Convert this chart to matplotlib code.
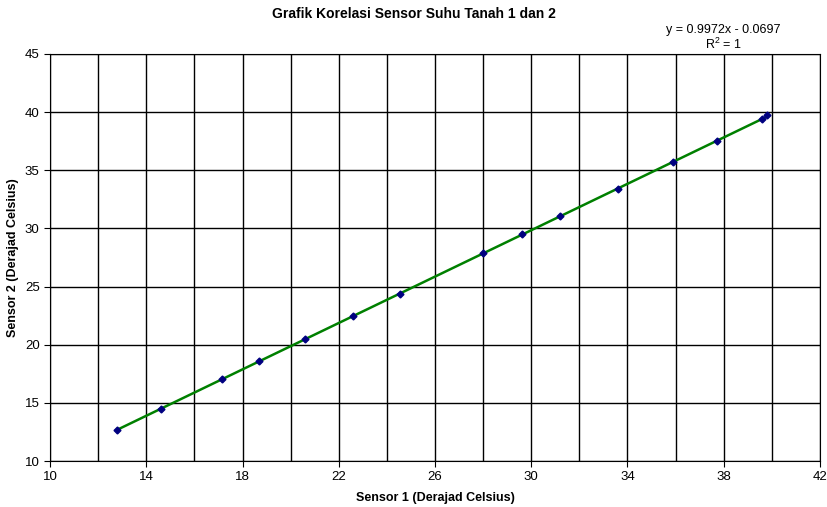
import numpy as np
import matplotlib
matplotlib.use('Agg')
import matplotlib.pyplot as plt
from matplotlib.ticker import MultipleLocator

plt.rcParams['font.family'] = ['Liberation Sans', 'DejaVu Sans']

# sensor readings (degrees Celsius)
sensor1 = [12.8, 14.6, 17.15, 18.7, 20.6, 22.6, 24.55, 28.0, 29.6, 31.2, 33.6, 35.9, 37.7, 39.6, 39.8]
sensor2 = [12.7, 14.5, 17.05, 18.6, 20.5, 22.5, 24.4, 27.9, 29.5, 31.1, 33.4, 35.7, 37.5, 39.45, 39.75]
slope = 0.9972
intercept = -0.0697
x_ticks = [10, 14, 18, 22, 26, 30, 34, 38, 42]

fig = plt.figure(figsize=(8.27, 5.07), dpi=100)
ax = fig.add_axes([0.0605, 0.0907, 0.931, 0.8028])

xs = np.array([min(sensor1), max(sensor1)])
ax.plot(xs, slope * xs + intercept, color='#008000', lw=1.8, zorder=3)
ax.plot(sensor1, sensor2, linestyle='none', marker='D', ms=3.5,
        color='#000080', zorder=4)

ax.set_xlim(10, 42)
ax.set_ylim(10, 45)
ax.set_xticks(x_ticks)
ax.xaxis.set_minor_locator(MultipleLocator(2))
ax.yaxis.set_major_locator(MultipleLocator(5))
ax.grid(which='both', axis='x', color='black', lw=1)
ax.grid(which='major', axis='y', color='black', lw=1)
ax.set_axisbelow(True)
ax.tick_params(which='both', direction='out', length=4, labelsize=9.5, colors='black')
ax.tick_params(which='minor', length=0)
for s in ax.spines.values():
    s.set_color('black')

ax.set_xlabel('Sensor 1 (Derajad Celsius)', fontsize=9, fontweight='bold', labelpad=6)
ax.set_ylabel('Sensor 2 (Derajad Celsius)', fontsize=9, fontweight='bold', labelpad=4)
fig.text(0.5, 0.972, 'Grafik Korelasi Sensor Suhu Tanah 1 dan 2', ha='center', va='center',
         fontsize=10, fontweight='bold')
fig.text(0.875, 0.94, 'y = 0.9972x - 0.0697', ha='center', va='center', fontsize=9)
fig.text(0.875, 0.912, '$\\mathregular{R^2}$ = 1', ha='center', va='center', fontsize=9)

fig.savefig('out.png', dpi=100)
